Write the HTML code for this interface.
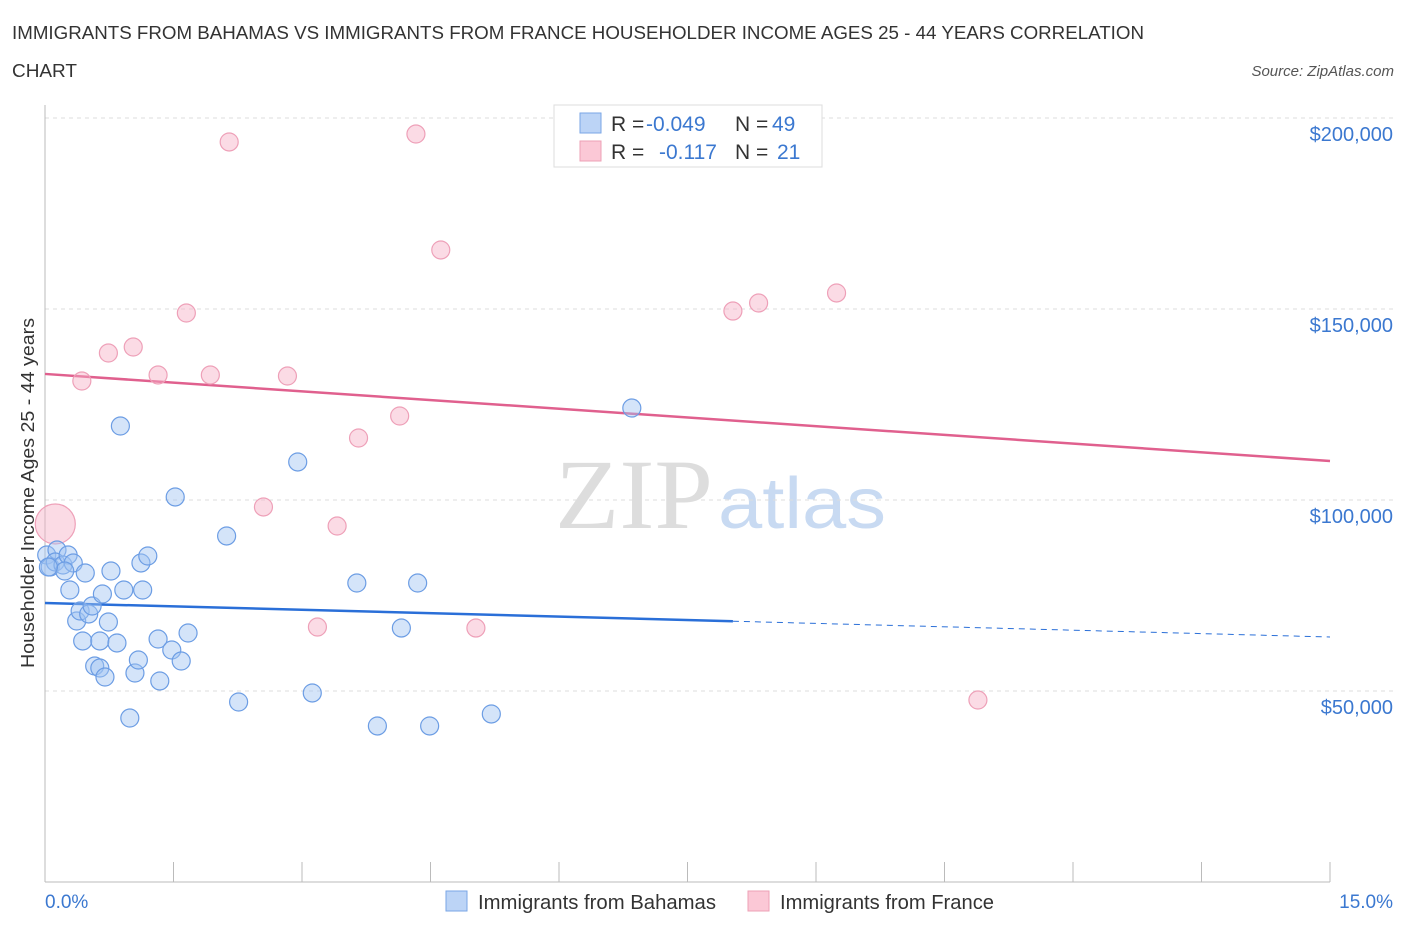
<!DOCTYPE html>
<html><head><meta charset="utf-8"><style>
body{margin:0;background:#fff;font-family:"Liberation Sans",sans-serif}
</style></head><body>
<svg width="1406" height="930" xmlns="http://www.w3.org/2000/svg" style="display:block">
<text x="12" y="39" font-size="18" fill="#333" textLength="1132" lengthAdjust="spacingAndGlyphs">IMMIGRANTS FROM BAHAMAS VS IMMIGRANTS FROM FRANCE HOUSEHOLDER INCOME AGES 25 - 44 YEARS CORRELATION</text>
<text x="12" y="77" font-size="18" fill="#333" textLength="65" lengthAdjust="spacingAndGlyphs">CHART</text>
<text x="1394" y="76" font-size="15" fill="#555" text-anchor="end" font-style="italic">Source: ZipAtlas.com</text>
<text x="555" y="528" font-size="100" fill="#ddd" font-family="Liberation Serif" textLength="158" lengthAdjust="spacingAndGlyphs">ZIP</text>
<text x="718" y="528" font-size="72" fill="#c8daf2" textLength="168" lengthAdjust="spacingAndGlyphs">atlas</text>
<g id="grid"></g>
<line x1="45" y1="105" x2="45" y2="882" stroke="#bbb"/>
<line x1="45" y1="882" x2="1330" y2="882" stroke="#bbb"/>
<g id="ticks"></g>
<text transform="translate(34,493) rotate(-90)" font-size="18" fill="#333" text-anchor="middle" textLength="350" lengthAdjust="spacingAndGlyphs">Householder Income Ages 25 - 44 years</text>
<text x="45" y="908" font-size="19" fill="#3b78d0">0.0%</text>
<text x="1393" y="908" font-size="19" fill="#3b78d0" text-anchor="end">15.0%</text>
<g id="lines"></g>
<g id="points"></g>
<g>
<rect x="554" y="105" width="268" height="62" fill="#fff" stroke="#ddd"/>
<rect x="580" y="113" width="21" height="20" fill="#bcd4f6" stroke="#7aa6e6"/>
<rect x="580" y="141" width="21" height="20" fill="#fbc8d6" stroke="#eea0b6"/>
<text y="131" font-size="21" fill="#333"><tspan x="611">R =</tspan><tspan x="646" fill="#3b78d0">-0.049</tspan><tspan x="735">N =</tspan><tspan x="772" fill="#3b78d0">49</tspan></text>
<text y="159" font-size="21" fill="#333"><tspan x="611">R =</tspan><tspan x="659" fill="#3b78d0">-0.117</tspan><tspan x="735">N =</tspan><tspan x="777" fill="#3b78d0">21</tspan></text>
</g>
<g>
<rect x="446" y="891" width="21" height="20" fill="#bcd4f6" stroke="#7aa6e6"/>
<text x="478" y="909" font-size="20" fill="#333" textLength="238" lengthAdjust="spacingAndGlyphs">Immigrants from Bahamas</text>
<rect x="748" y="891" width="21" height="20" fill="#fbc8d6" stroke="#eea0b6"/>
<text x="780" y="909" font-size="20" fill="#333" textLength="214" lengthAdjust="spacingAndGlyphs">Immigrants from France</text>
</g>
</svg>
<script>
const yTicks=[50000,100000,150000,200000];
const yTickLabels=["$50,000","$100,000","$150,000","$200,000"];
const blueX=[0.02,0.06,0.14,0.12,0.21,0.27,0.33,0.23,0.47,0.29,0.77,1.12,1.20,0.37,0.41,0.51,0.55,0.67,0.74,0.92,1.14,0.44,0.64,0.84,1.32,1.48,1.67,0.58,0.64,0.70,1.05,1.09,1.59,1.34,0.99,0.88,1.52,2.12,2.26,2.95,3.12,3.64,3.88,4.16,4.35,4.49,5.21,6.85,0.04];
const blueY=[85600,82460,86910,83770,82980,85600,83510,81410,80890,76440,81410,83510,85340,68320,70940,70160,72250,75390,68060,76440,76440,63090,63090,62570,63610,60730,65180,56540,56020,53660,54710,58110,57850,52620,42930,119370,100790,90580,47120,109950,49480,78270,40840,66490,78270,40840,43980,124080,82460];
const pinkX=[0.12,0.43,0.74,1.03,1.32,1.65,1.93,2.15,2.55,2.83,3.18,3.41,3.66,4.14,4.33,4.62,5.03,8.03,8.33,9.24,10.89];
const pinkY=[93720,131150,138480,140050,132720,148950,132720,193720,98170,132460,66750,93190,116230,121990,195810,165450,66490,149470,151570,154190,47640];
const pinkSize=[20,9,9,9,9,9,9,9,9,9,9,9,9,9,9,9,9,9,9,9,9];
const blueTrend=[73037,64136]; const blueSolidEnd=8.03;
const pinkTrend=[133000,110209];
const NS="http://www.w3.org/2000/svg";
const xs=v=>45+v*85.667, ys=v=>882-v/50000*191;
function mk(t,a,p){const e=document.createElementNS(NS,t);for(const k in a)e.setAttribute(k,a[k]);p.appendChild(e);return e;}
const grid=document.getElementById('grid');
yTicks.forEach((t,i)=>{
 const l=mk('line',{x1:45,x2:1393,y1:ys(t),y2:ys(t),stroke:'#ddd','stroke-dasharray':'4,4'},grid);
 
 
 const tx=mk('text',{x:1393,y:ys(t)+23,'font-size':20,fill:'#3b78d0','text-anchor':'end'},grid);
 tx.textContent=yTickLabels[i];
 
 
});
const ticks=document.getElementById('ticks');
for(let i=1;i<=10;i++){
 const l=mk('line',{x1:xs(i*1.5),x2:xs(i*1.5),y1:862,y2:882,stroke:'#bbb'},ticks);
 
 
}
const lines=document.getElementById('lines');
const byAt=x=>blueTrend[0]+(blueTrend[1]-blueTrend[0])*x/15;
let l1=mk('line',{x1:xs(0),y1:ys(blueTrend[0]),x2:xs(blueSolidEnd),y2:ys(byAt(blueSolidEnd)),stroke:'#2a6fd8','stroke-width':2.5},lines);


let l2=mk('line',{x1:xs(blueSolidEnd),y1:ys(byAt(blueSolidEnd)),x2:xs(15),y2:ys(blueTrend[1]),stroke:'#2a6fd8','stroke-width':1,'stroke-dasharray':'6,5'},lines);


let l3=mk('line',{x1:xs(0),y1:ys(pinkTrend[0]),x2:xs(15),y2:ys(pinkTrend[1]),stroke:'#e0608e','stroke-width':2.5},lines);


const pts=document.getElementById('points');
pinkX.forEach((x,i)=>{
 const c=mk('circle',{cx:xs(x),cy:ys(pinkY[i]),r:pinkSize[i],fill:'rgba(246,176,198,0.45)',stroke:'#eea0b8','stroke-width':1.2},pts);
 
 
});
blueX.forEach((x,i)=>{
 const c=mk('circle',{cx:xs(x),cy:ys(blueY[i]),r:9,fill:'rgba(160,196,242,0.45)',stroke:'#6c9de4','stroke-width':1.2},pts);
 
 
});
</script>
</body></html>
